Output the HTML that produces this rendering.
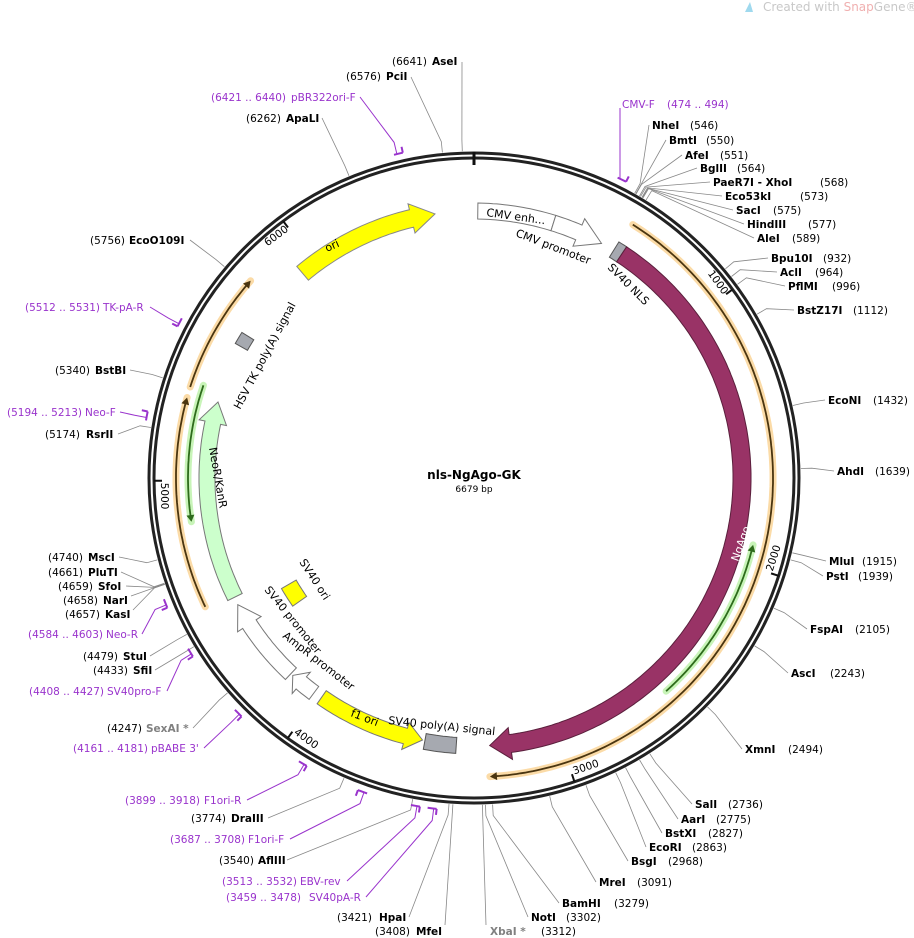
<!DOCTYPE html>
<html><head><meta charset="utf-8"><style>
html,body{margin:0;padding:0;background:#fff;}
svg{display:block;font-family:"DejaVu Sans","Liberation Sans",sans-serif;}
.n{font-weight:bold;}
text{font-size:10.5px;fill:#000;}
.p{fill:#9933cc;}
.g{fill:#808080;}
.f{font-size:11px;}
</style></head><body>
<svg id="s" width="914" height="938" viewBox="0 0 914 938" xmlns="http://www.w3.org/2000/svg">
<g id="feat"></g>
<g id="lines" fill="none"></g>
<!-- backbone -->
<circle cx="474" cy="478" r="325" fill="none" stroke="#222" stroke-width="3"/>
<circle cx="474" cy="478" r="320" fill="none" stroke="#222" stroke-width="3"/>
<line x1="474" y1="152" x2="474" y2="165" stroke="#111" stroke-width="3"/>
<g id="ticks"></g>

<!-- watermark -->
<polygon points="745,12 750,2 753,12" fill="#9fd9ee"/>
<text x="763" y="11" style="font-size:12px;fill:#c8c8c8">Created with <tspan style="fill:#f0b0b0">Snap</tspan>Gene®</text>

<!-- center -->
<text x="474" y="479" text-anchor="middle" class="n" style="font-size:12px">nls-NgAgo-GK</text>
<text x="474" y="492" text-anchor="middle" style="font-size:9px">6679 bp</text>

<!-- feature labels -->
<text class="f" transform="translate(327,252) rotate(-24)">ori</text>
<text class="f" transform="translate(486,216) rotate(8)">CMV enh...</text>
<text class="f" transform="translate(515,236) rotate(21)">CMV promoter</text>
<text class="f" transform="translate(607,268) rotate(45)">SV40 NLS</text>
<text class="f" transform="translate(738,562) rotate(-70)" style="fill:#fff">NgAgo</text>
<text class="f" transform="translate(240,410) rotate(-62)">HSV TK poly(A) signal</text>
<text class="f" transform="translate(209,448) rotate(80)">NeoR/KanR</text>
<text class="f" transform="translate(299,562) rotate(57)">SV40 ori</text>
<text class="f" transform="translate(264,590) rotate(51)">SV40 promoter</text>
<text class="f" transform="translate(282,637) rotate(38)">AmpR promoter</text>
<text class="f" transform="translate(350,716) rotate(21)">f1 ori</text>
<text class="f" transform="translate(388,724) rotate(6)">SV40 poly(A) signal</text>

<!-- tick labels -->
<g id="tl" style="font-size:10px">
<text id="t1000" text-anchor="end">1000</text>
<text id="t2000">2000</text>
<text id="t3000">3000</text>
<text id="t4000">4000</text>
<text id="t5000">5000</text>
<text id="t6000" text-anchor="end">6000</text>
</g>

<!-- right labels -->
<text x="622" y="108" class="p">CMV-F<tspan x="667">(474 .. 494)</tspan></text>
<text x="652" y="129"><tspan class="n">NheI</tspan><tspan x="690">(546)</tspan></text>
<text x="669" y="144"><tspan class="n">BmtI</tspan><tspan x="706">(550)</tspan></text>
<text x="685" y="159"><tspan class="n">AfeI</tspan><tspan x="720">(551)</tspan></text>
<text x="700" y="172"><tspan class="n">BglII</tspan><tspan x="737">(564)</tspan></text>
<text x="713" y="186"><tspan class="n">PaeR7I - XhoI</tspan><tspan x="820">(568)</tspan></text>
<text x="725" y="200"><tspan class="n">Eco53kI</tspan><tspan x="800">(573)</tspan></text>
<text x="736" y="214"><tspan class="n">SacI</tspan><tspan x="773">(575)</tspan></text>
<text x="747" y="228"><tspan class="n">HindIII</tspan><tspan x="808">(577)</tspan></text>
<text x="757" y="242"><tspan class="n">AleI</tspan><tspan x="792">(589)</tspan></text>
<text x="771" y="262"><tspan class="n">Bpu10I</tspan><tspan x="823">(932)</tspan></text>
<text x="780" y="276"><tspan class="n">AclI</tspan><tspan x="815">(964)</tspan></text>
<text x="788" y="290"><tspan class="n">PflMI</tspan><tspan x="832">(996)</tspan></text>
<text x="797" y="314"><tspan class="n">BstZ17I</tspan><tspan x="853">(1112)</tspan></text>
<text x="828" y="404"><tspan class="n">EcoNI</tspan><tspan x="873">(1432)</tspan></text>
<text x="837" y="475"><tspan class="n">AhdI</tspan><tspan x="875">(1639)</tspan></text>
<text x="829" y="565"><tspan class="n">MluI</tspan><tspan x="862">(1915)</tspan></text>
<text x="826" y="580"><tspan class="n">PstI</tspan><tspan x="858">(1939)</tspan></text>
<text x="810" y="633"><tspan class="n">FspAI</tspan><tspan x="855">(2105)</tspan></text>
<text x="791" y="677"><tspan class="n">AscI</tspan><tspan x="830">(2243)</tspan></text>
<text x="745" y="753"><tspan class="n">XmnI</tspan><tspan x="788">(2494)</tspan></text>
<text x="695" y="808"><tspan class="n">SalI</tspan><tspan x="728">(2736)</tspan></text>
<text x="681" y="823"><tspan class="n">AarI</tspan><tspan x="716">(2775)</tspan></text>
<text x="665" y="837"><tspan class="n">BstXI</tspan><tspan x="708">(2827)</tspan></text>
<text x="649" y="851"><tspan class="n">EcoRI</tspan><tspan x="692">(2863)</tspan></text>
<text x="631" y="865"><tspan class="n">BsgI</tspan><tspan x="668">(2968)</tspan></text>
<text x="599" y="886"><tspan class="n">MreI</tspan><tspan x="637">(3091)</tspan></text>
<text x="562" y="907"><tspan class="n">BamHI</tspan><tspan x="614">(3279)</tspan></text>
<text x="531" y="921"><tspan class="n">NotI</tspan><tspan x="566">(3302)</tspan></text>
<text x="490" y="935"><tspan class="n g">XbaI *</tspan><tspan x="541">(3312)</tspan></text>

<!-- left labels -->
<text x="392" y="65">(6641)</text><text x="432" y="65" class="n">AseI</text>
<text x="346" y="80">(6576)</text><text x="386" y="80" class="n">PciI</text>
<text x="211" y="101" class="p">(6421 .. 6440)</text><text x="291" y="101" class="p">pBR322ori-F</text>
<text x="246" y="122">(6262)</text><text x="286" y="122" class="n">ApaLI</text>
<text x="90" y="244">(5756)</text><text x="129" y="244" class="n">EcoO109I</text>
<text x="25" y="311" class="p">(5512 .. 5531)</text><text x="103" y="311" class="p">TK-pA-R</text>
<text x="55" y="374">(5340)</text><text x="95" y="374" class="n">BstBI</text>
<text x="7" y="416" class="p">(5194 .. 5213)</text><text x="85" y="416" class="p">Neo-F</text>
<text x="45" y="438">(5174)</text><text x="86" y="438" class="n">RsrII</text>
<text x="48" y="561">(4740)</text><text x="88" y="561" class="n">MscI</text>
<text x="48" y="576">(4661)</text><text x="88" y="576" class="n">PluTI</text>
<text x="58" y="590">(4659)</text><text x="98" y="590" class="n">SfoI</text>
<text x="63" y="604">(4658)</text><text x="103" y="604" class="n">NarI</text>
<text x="65" y="618">(4657)</text><text x="105" y="618" class="n">KasI</text>
<text x="28" y="638" class="p">(4584 .. 4603)</text><text x="106" y="638" class="p">Neo-R</text>
<text x="83" y="660">(4479)</text><text x="123" y="660" class="n">StuI</text>
<text x="93" y="674">(4433)</text><text x="133" y="674" class="n">SfiI</text>
<text x="29" y="695" class="p">(4408 .. 4427)</text><text x="107" y="695" class="p">SV40pro-F</text>
<text x="107" y="732">(4247)</text><text x="146" y="732" class="n g">SexAI *</text>
<text x="73" y="752" class="p">(4161 .. 4181)</text><text x="151" y="752" class="p">pBABE 3'</text>
<text x="125" y="804" class="p">(3899 .. 3918)</text><text x="204" y="804" class="p">F1ori-R</text>
<text x="191" y="822">(3774)</text><text x="231" y="822" class="n">DraIII</text>
<text x="170" y="843" class="p">(3687 .. 3708)</text><text x="248" y="843" class="p">F1ori-F</text>
<text x="219" y="864">(3540)</text><text x="258" y="864" class="n">AflIII</text>
<text x="222" y="885" class="p">(3513 .. 3532)</text><text x="300" y="885" class="p">EBV-rev</text>
<text x="226" y="901" class="p">(3459 .. 3478)</text><text x="309" y="901" class="p">SV40pA-R</text>
<text x="337" y="921">(3421)</text><text x="379" y="921" class="n">HpaI</text>
<text x="375" y="935">(3408)</text><text x="416" y="935" class="n">MfeI</text>

<script>
(function(){
var NS="http://www.w3.org/2000/svg",cx=474,cy=478,N=6679;
function pt(b,r){var a=b/N*2*Math.PI;return [cx+r*Math.sin(a),cy-r*Math.cos(a)];}
function el(parent,tag,attrs){var e=document.createElementNS(NS,tag);for(var k in attrs)e.setAttribute(k,attrs[k]);document.getElementById(parent).appendChild(e);return e;}
function arcPts(b1,b2,r){var p=[],n=Math.max(2,Math.ceil(Math.abs(b2-b1)/15));for(var i=0;i<=n;i++){p.push(pt(b1+(b2-b1)*i/n,r));}return p;}
function ps(p){return p.map(function(q){return q[0].toFixed(1)+","+q[1].toFixed(1);}).join(" ");}
function feat(b1,b2,ri,ro,head,hl,hw,fill,stroke){
  var p;var rm=(ri+ro)/2;
  if(head==="end"){p=arcPts(b1,b2-hl,ro);p.push(pt(b2-hl,ro+hw));p.push(pt(b2,rm));p.push(pt(b2-hl,ri-hw));p=p.concat(arcPts(b2-hl,b1,ri));}
  else if(head==="start"){p=[pt(b1,rm),pt(b1+hl,ro+hw)];p=p.concat(arcPts(b1+hl,b2,ro));p=p.concat(arcPts(b2,b1+hl,ri));p.push(pt(b1+hl,ri-hw));}
  else{p=arcPts(b1,b2,ro).concat(arcPts(b2,b1,ri));}
  el("feat","polygon",{points:ps(p),fill:fill,stroke:stroke,"stroke-width":1});
}
function orf(b1,b2,r,head,halo,core){
  el("lines","polyline",{points:ps(arcPts(b1,b2,r)),stroke:halo,"stroke-width":7,"stroke-opacity":0.75,"stroke-linecap":"round"});
  var s=head==="end"?b1:b1+20,e=head==="end"?b2-20:b2;
  el("lines","polyline",{points:ps(arcPts(s,e,r)),stroke:core,"stroke-width":1.8});
  var tip=head==="end"?b2:b1,base=head==="end"?b2-25:b1+25;
  el("lines","polygon",{points:ps([pt(tip,r),pt(base,r+4),pt(base,r-4)]),fill:core});
}
feat(15,321,259,275,null,0,0,"#fff","#777");
feat(321,529,259,275,"end",100,7,"#fff","#777");
feat(585,620,259,277,null,0,0,"#a6a9b0","#555");
feat(620,3277,259,277,"end",82,7,"#993366","#5a1f3c");
feat(5938,6523,258,276,"end",95,6,"#ffff00","#888");
feat(4518,5316,259,275,"end",85,6,"#ccffcc","#777");
feat(5555,5605,260,274,null,0,0,"#a6a9b0","#555");
feat(4139,4486,260,276,"end",90,6,"#fff","#777");
feat(4020,4129,260,276,"end",45,6,"#fff","#777");
feat(3546,3985,259,275,"start",70,6,"#ffff00","#777");
feat(3410,3536,260,276,null,0,0,"#a6a9b0","#555");
feat(4355,4455,205,222,null,0,0,"#ffff00","#777");
orf(595,3283,299,"end","#f9cf8a","#4a3510");
orf(4534,5300,298,"end","#f9cf8a","#4a3510");
orf(5339,5778,298,"end","#f9cf8a","#4a3510");
orf(1920,2560,287,"start","#b5f0a0","#2e6b1c");
orf(4846,5360,286,"start","#b5f0a0","#2e6b1c");
[1000,2000,3000,4000,5000,6000].forEach(function(b){
  var a=pt(b,312),c=pt(b,320);
  el("ticks","line",{x1:a[0],y1:a[1],x2:c[0],y2:c[1],stroke:"#111","stroke-width":2});
  var th=b/N*360,t=document.getElementById("t"+b);
  if(th<90||th>270){t.setAttribute("x",cx-1);t.setAttribute("y",cy-309);t.setAttribute("transform","rotate("+th+" "+cx+" "+cy+")");}
  else{t.setAttribute("x",cx+2);t.setAttribute("y",cy+313);t.setAttribute("transform","rotate("+(th-180)+" "+cx+" "+cy+")");}
});
var S=[[546,649,125],[550,666,140],[551,682,155],[564,697,168],[568,710,182],[573,722,196],[575,733,210],[577,744,224],[589,754,238],
[932,768,258],[964,777,272],[996,785,286],[1112,794,310],[1432,825,400],[1639,834,471],[1915,826,561],[1939,823,576],[2105,807,629],[2243,788,673],
[2494,742,749],[2736,692,804],[2775,678,819],[2827,662,833],[2863,646,847],[2968,628,861],[3091,596,882],[3279,559,903],[3302,528,917],[3312,486,925],
[6641,462,62],[6576,411,77],[6262,322,118],[5756,190,240],[5340,130,370],[5174,118,434],[4740,119,557],[4661,121,572],[4659,126,586],[4658,131,596],[4657,133,610],
[4479,150,656],[4433,155,670],[4247,193,728],[3774,268,818],[3540,287,860],[3421,409,917],[3408,445,925]];
S.forEach(function(s){var a=pt(s[0],327),b=pt(s[0],338);
  el("lines","polyline",{points:ps([a,b,[s[1],s[2]]]),stroke:"#888","stroke-width":0.8});});
var P=[[474,494,620,108,1],[6421,6440,360,97,1],[5512,5531,150,307,-1],[5194,5213,120,412,1],[4584,4603,142,634,-1],[4408,4427,167,691,-1],
[4161,4181,204,748,-1],[3899,3918,247,800,-1],[3687,3708,290,839,1],[3513,3532,347,881,-1],[3459,3478,366,897,-1]];
P.forEach(function(p){
  var m=(p[0]+p[1])/2,a=pt(m,333),b=pt(m,345);
  var pts=(p[0]===474)?[a,[620,178],[620,108]]:[a,b,[p[2],p[3]]];
  el("lines","polyline",{points:ps(pts),stroke:"#9933cc","stroke-width":1});
  el("lines","polyline",{points:ps(arcPts(p[0],p[1]+10,333)),stroke:"#9933cc","stroke-width":2});
  var e=p[4]>0?p[1]+10:p[0];var h1=pt(e,333),h2=pt(e,339);
  el("lines","line",{x1:h1[0],y1:h1[1],x2:h2[0],y2:h2[1],stroke:"#9933cc","stroke-width":2});
});
})();
</script>
</svg>
</body></html>
